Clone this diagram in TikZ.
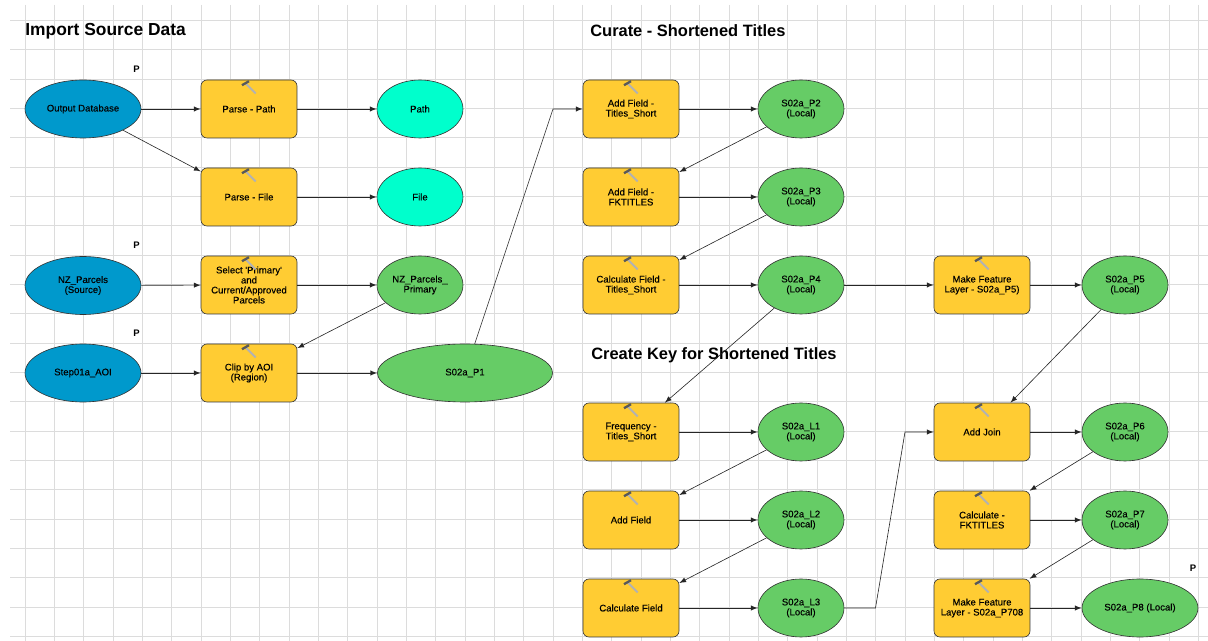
\documentclass[tikz,border=0pt]{standalone}
\usepackage{fontspec}
\setmainfont{Liberation Sans}
\usetikzlibrary{shapes.geometric}

\definecolor{sourceblue}{HTML}{0099CC}
\definecolor{toolyellow}{HTML}{FFCC33}
\definecolor{localgreen}{HTML}{66CC66}
\definecolor{valuecyan}{HTML}{00FFCC}
\definecolor{gridgray}{HTML}{DCDCDC}

\tikzset{
  gridline/.style={draw=gridgray,line width=0.5pt},
  label text/.style={font=\fontsize{5.45}{5.7}\selectfont\addfontfeature{FakeBold=0.2},align=center,inner sep=0pt,text=black},
  tool/.style={label text,draw=black!80,line width=0.35pt,fill=toolyellow,rounded corners=0.12cm,minimum width=1.92cm,minimum height=1.16cm},
  blob/.style={label text,ellipse,draw=black!80,line width=0.35pt,minimum width=1.72cm,minimum height=1.16cm},
  source/.style={blob,fill=sourceblue,minimum width=2.32cm},
  local/.style={blob,fill=localgreen},
  value/.style={blob,fill=valuecyan},
  conn/.style={->,black!85,line width=0.35pt},
  title/.style={font=\fontsize{9.35}{12}\selectfont\bfseries,anchor=west,inner sep=0pt},
  pflag/.style={font=\fontsize{5.4}{6}\selectfont\bfseries,inner sep=0pt},
  hammer/.pic={
    \draw[gray!60,line width=1.1pt] (-3.5,3.5) -- (6.7,13.8);
    \draw[black!65,line width=1.3pt] (-7,5.5) -- (0,1.5);
  }
}

\begin{document}
\begin{tikzpicture}[x=0.02cm,y=-0.02cm,>=latex]

	\useasboundingbox (0,0) rectangle (1208,641);

	% draw the grid
	\foreach \k in {0,...,40}
		\draw[gridline] ({25+29.34*\k},5) -- ({25+29.34*\k},641);
	\foreach \k in {0,...,21}
		\draw[gridline] (10,{20.3+29.34*\k}) -- (1208,{20.3+29.34*\k});

	% section titles
	\node[title,font=\fontsize{9.9}{12}\selectfont\bfseries] (importtitle) at (25,31) {Import Source Data};
	\node[title] (curatetitle) at (590,31) {Curate - Shortened Titles};
	\node[title] (keytitle) at (591,355) {Create Key for Shortened Titles};

	% import column
	\node[source] (outdb) at (83,109) {Output Database};
	\node[source] (parcels) at (83,285.5) {NZ\_Parcels\\(Source)};
	\node[source] (aoi) at (83,373) {Step01a\_AOI};
	\node[tool] (parsepath) at (249,109) {Parse - Path};
	\node[tool] (parsefile) at (249,197) {Parse - File};
	\node[tool] (selprimary) at (249,285) {Select \textquotesingle Primary\textquotesingle\\and\\Current/Approved\\Parcels};
	\node[tool] (clipaoi) at (249,373) {Clip by AOI\\(Region)};
	\node[value] (path) at (420,109) {Path};
	\node[value] (file) at (420,197) {File};
	\node[local] (primary) at (420,285) {NZ\_Parcels\_\\Primary};
	\node[local,minimum width=3.5cm] (ptone) at (465,373) {S02a\_P1};

	% curate column
	\node[tool] (addshort) at (631,109) {Add Field -\\Titles\_Short};
	\node[tool] (addfk) at (631,197) {Add Field -\\FKTITLES};
	\node[tool] (calcshort) at (631,285) {Calculate Field -\\Titles\_Short};
	\node[local] (pttwo) at (801,109) {S02a\_P2\\(Local)};
	\node[local] (ptthree) at (801,197) {S02a\_P3\\(Local)};
	\node[local] (ptfour) at (801,285) {S02a\_P4\\(Local)};
	\node[tool] (makefive) at (982,285) {Make Feature\\Layer - S02a\_P5)};
	\node[local] (ptfive) at (1125,285) {S02a\_P5\\(Local)};

	% key column
	\node[tool] (freq) at (631,432) {Frequency -\\Titles\_Short};
	\node[tool] (addfield) at (631,520) {Add Field};
	\node[tool] (calcfield) at (631,608) {Calculate Field};
	\node[local] (lone) at (801,432) {S02a\_L1\\(Local)};
	\node[local] (ltwo) at (801,520) {S02a\_L2\\(Local)};
	\node[local] (lthree) at (801,608) {S02a\_L3\\(Local)};

	% join column
	\node[tool] (addjoin) at (982,432) {Add Join};
	\node[tool] (calcfk) at (982,520) {Calculate -\\FKTITLES};
	\node[tool] (makeeight) at (982,608) {Make Feature\\Layer - S02a\_P708};
	\node[local] (ptsix) at (1125,432) {S02a\_P6\\(Local)};
	\node[local] (ptseven) at (1125,520) {S02a\_P7\\(Local)};
	\node[local,minimum width=2.32cm] (pteight) at (1140,608) {S02a\_P8 (Local)};

	% the P flags
	\node[pflag] (pdb) at (136.5,69) {P};
	\node[pflag] (pparcels) at (136.5,245) {P};
	\node[pflag] (paoi) at (136.5,333.5) {P};
	\node[pflag] (peight) at (1193,568) {P};

	% hammers on the tools
	\foreach \t in {parsepath,parsefile,selprimary,clipaoi,addshort,addfk,calcshort,makefive,freq,addfield,calcfield,addjoin,calcfk,makeeight}
		\path (\t.north) pic {hammer};

	% bends of the two long connectors
	\coordinate (bendtopa) at (553,109);
	\coordinate (bendlowa) at (875.5,608);
	\coordinate (bendlowb) at (905,432);

	% connectors
	\draw[conn] (outdb) -- (parsepath);
	\draw[conn] (outdb) -- (parsefile);
	\draw[conn] (parsepath) -- (path);
	\draw[conn] (parsefile) -- (file);
	\draw[conn] (parcels) -- (selprimary);
	\draw[conn] (selprimary) -- (primary);
	\draw[conn] (primary) -- (clipaoi);
	\draw[conn] (aoi) -- (clipaoi);
	\draw[conn] (clipaoi) -- (ptone);
	\draw[conn] (ptone) -- (bendtopa) -- (addshort);
	\draw[conn] (addshort) -- (pttwo);
	\draw[conn] (pttwo) -- (addfk);
	\draw[conn] (addfk) -- (ptthree);
	\draw[conn] (ptthree) -- (calcshort);
	\draw[conn] (calcshort) -- (ptfour);
	\draw[conn] (ptfour) -- (makefive);
	\draw[conn] (makefive) -- (ptfive);
	\draw[conn] (ptfour) -- (freq);
	\draw[conn] (freq) -- (lone);
	\draw[conn] (lone) -- (addfield);
	\draw[conn] (addfield) -- (ltwo);
	\draw[conn] (ltwo) -- (calcfield);
	\draw[conn] (calcfield) -- (lthree);
	\draw[conn] (lthree) -- (bendlowa) -- (bendlowb) -- (addjoin);
	\draw[conn] (ptfive) -- (addjoin);
	\draw[conn] (addjoin) -- (ptsix);
	\draw[conn] (ptsix) -- (calcfk);
	\draw[conn] (calcfk) -- (ptseven);
	\draw[conn] (ptseven) -- (makeeight);
	\draw[conn] (makeeight) -- (pteight);

\end{tikzpicture}
\end{document}
